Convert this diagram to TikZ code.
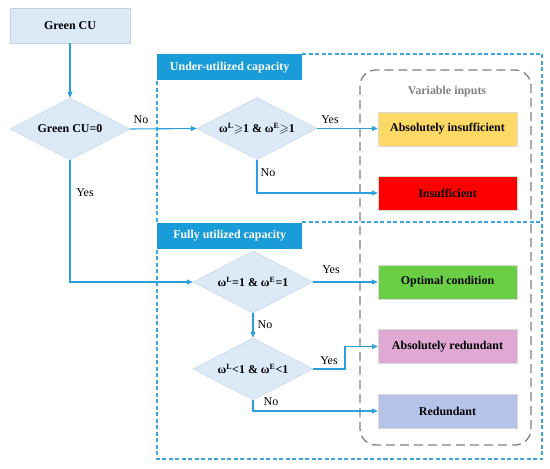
\documentclass[tikz,border=0pt]{standalone}
\usepackage{fontspec}
\usepackage{amssymb}
\setmainfont{Liberation Serif}
\usetikzlibrary{shapes.geometric,arrows.meta}
\definecolor{arrowblue}{HTML}{2B9FDC}
\definecolor{headblue}{HTML}{1A9CD8}
\definecolor{dashblue}{HTML}{3FA3DE}
\definecolor{boxfill}{HTML}{DCE9F6}
\definecolor{boxline}{HTML}{C3D3E3}
\definecolor{grayline}{HTML}{808080}
\definecolor{cYellow}{HTML}{FFD966}
\definecolor{cRed}{HTML}{FF0000}
\definecolor{cGreen}{HTML}{6ACF45}
\definecolor{cPink}{HTML}{DFA9D3}
\definecolor{cLav}{HTML}{B6C4EA}
\tikzset{
  txt/.style={font=\fontsize{12}{14}\selectfont\bfseries},
  lbl/.style={font=\fontsize{12}{14}\selectfont, inner sep=1pt},
  startbox/.style={txt, draw=boxline, fill=boxfill, minimum width=120bp, minimum height=35bp, inner sep=0},
  dia/.style={txt, diamond, aspect=2, draw=boxline, fill=boxfill, minimum width=120bp, minimum height=62bp, inner sep=0},
  outbox/.style={txt, draw=black!15, minimum width=139bp, minimum height=34bp, inner sep=0},
  header/.style={txt, text=white, fill=headblue, minimum width=145bp, minimum height=26bp, inner sep=0, anchor=north west},
  region/.style={dashblue, line width=1.3bp, dash pattern=on 4bp off 2.5bp},
  conn/.style={draw=arrowblue, line width=1.1bp, -{Triangle[length=6bp,width=5bp]}},
}
\begin{document}
\begin{tikzpicture}[x=1bp,y=-1bp]
\useasboundingbox (0,0) rectangle (550,469);
% regions
\draw[region] (302,54) -- (542,54) -- (542,459) -- (157,459) -- (157,249);
\draw[region] (157,222) -- (157,80);
\draw[region] (302,222) -- (542,222);
\node[header] (h1) at (157,54) {Under-utilized capacity};
\node[header] (h2) at (157,222.5) {Fully utilized capacity};
\draw[grayline, line width=1.3bp, dash pattern=on 9bp off 5bp, rounded corners=16bp] (360,70) rectangle (531,445);
\node[txt, text=grayline] (vi) at (447,92) {Variable inputs};
% nodes
\node[startbox] (gcu) at (70,25.5) {Green CU};
\node[dia] (d1) at (70,129) {Green CU=0};
\node[dia] (d2) at (257,128.5) {ω\textsuperscript{L}$\geqslant$1 \& ω\textsuperscript{E}$\geqslant$1};
\node[dia] (d3) at (253,282) {ω\textsuperscript{L}=1 \& ω\textsuperscript{E}=1};
\node[dia] (d4) at (253,369) {ω\textsuperscript{L}<1 \& ω\textsuperscript{E}<1};
\node[outbox, fill=cYellow] (ai) at (447.5,129) {Absolutely insufficient};
\node[outbox, fill=cRed] (ins) at (447.5,193) {Insufficient};
\node[outbox, fill=cGreen] (opt) at (447.5,282) {Optimal condition};
\node[outbox, fill=cPink] (ar) at (447.5,346.5) {Absolutely redundant};
\node[outbox, fill=cLav] (red) at (447.5,411) {Redundant};
% connectors
\draw[conn] (gcu) -- (d1);
\draw[conn] (d1.east) -- (d2.west);
\node[lbl] (l1) at (141,120) {No};
\draw[conn] (d1.south) |- (d3.west);
\node[lbl] (l2) at (85,193) {Yes};
\draw[conn] (d2.east) -- (d2.east -| ai.west);
\node[lbl] (l3) at (330,120) {Yes};
\draw[conn] (d2.south) |- (ins.west);
\node[lbl] (l4) at (268,173) {No};
\draw[conn] (d3.east) -- (d3.east -| opt.west);
\node[lbl] (l5) at (331,270) {Yes};
\draw[conn] (d3.south) -- (d4.north);
\node[lbl] (l6) at (265,325) {No};
\draw[conn] (d4.east) -- (345,369) |- (ar.west);
\node[lbl] (l7) at (329,361) {Yes};
\draw[conn] (d4.south) |- (red.west);
\node[lbl] (l8) at (271,402) {No};
\end{tikzpicture}
\end{document}
